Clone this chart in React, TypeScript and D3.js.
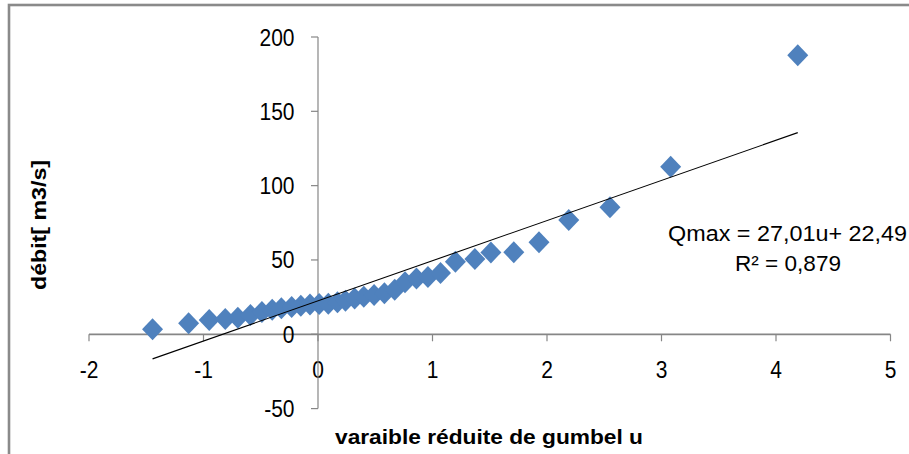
import React from "react";
import * as d3 from "d3";

// Gumbel reduced variate u (x) and maximum discharge Qmax (y)
const uValues = [
  -1.445, -1.13, -0.95, -0.81, -0.7, -0.59, -0.49, -0.4, -0.32, -0.23, -0.15, -0.07,
  0.01, 0.09, 0.17, 0.24, 0.32, 0.4, 0.49, 0.58, 0.67, 0.76, 0.86, 0.96, 1.07, 1.2,
  1.37, 1.51, 1.71, 1.93, 2.19, 2.55, 3.08, 4.19,
];
const qValues = [
  3.4, 7.4, 9.6, 10.3, 11.2, 13.0, 15.0, 16.5, 17.5, 18.3, 19.2, 20.0,
  20.3, 20.5, 21.5, 22.5, 24.0, 25.3, 26.4, 27.6, 30.0, 35.0, 37.6, 38.5, 41.2, 48.8,
  50.6, 55.1, 55.2, 61.9, 76.9, 85.4, 112.7, 187.8,
];
const xTicks = [-2, -1, 0, 1, 2, 3, 4, 5];
const yTicks = [-50, 0, 50, 100, 150, 200];
const slope = 27.01;
const intercept = 22.49;
const equationText = "Qmax = 27,01u+ 22,49";
const r2Text = "R² = 0,879";
const xTitle = "varaible réduite de gumbel u";
const yTitle = "débit[ m3/s]";

const W = 909;
const H = 454;
const FONT = "'Liberation Sans', Arial, sans-serif";
const AXIS = "#868686";
const BLUE = "#4F81BD";

export default function App() {
  const x = d3.scaleLinear().domain([-2, 5]).range([89, 890.5]);
  const y = d3.scaleLinear().domain([-50, 200]).range([408.6, 37]);
  const x0 = x(0);
  const y0 = y(0);

  const points = uValues.map((u, i) => ({ u, q: qValues[i] }));
  const uMin = d3.min(uValues) as number;
  const uMax = d3.max(uValues) as number;
  const trend = d3
    .line<number>()
    .x((u) => x(u))
    .y((u) => y(slope * u + intercept))([uMin, uMax]);

  const diamond = (cx: number, cy: number) =>
    `M${cx},${cy - 11}L${cx + 10.5},${cy}L${cx},${cy + 11}L${cx - 10.5},${cy}Z`;

  return (
    <svg
      width={W}
      height={H}
      style={{ position: "absolute", left: 0, top: 0, background: "#fff" }}
      fontFamily={FONT}
    >
      <rect x={0} y={0} width={W} height={H} fill="#fff" />
      {/* outer frame */}
      <rect x={9} y={5} width={1200} height={1200} fill="none" stroke="#8a8a8a" strokeWidth={2.6} />

      {/* x axis */}
      <line x1={x(-2)} x2={x(5)} y1={y0} y2={y0} stroke={AXIS} strokeWidth={1.8} />
      {xTicks.map((t) => (
        <g key={"xt" + t}>
          <line x1={x(t)} x2={x(t)} y1={y0} y2={y0 + 7} stroke={AXIS} strokeWidth={1.2} />
          <text
            transform={`translate(${x(t)},378) scale(1,1.12)`}
            textAnchor="middle"
            fontSize={21}
            fill="#000"
          >
            {String(t)}
          </text>
        </g>
      ))}

      {/* y axis */}
      <line x1={x0} x2={x0} y1={y(200)} y2={y(-50)} stroke={AXIS} strokeWidth={1.2} />
      {yTicks.map((t) => (
        <g key={"yt" + t}>
          <line x1={x0 - 7} x2={x0} y1={y(t)} y2={y(t)} stroke={AXIS} strokeWidth={1.2} />
          <text
            transform={`translate(294.5,${y(t) + 8.5}) scale(1,1.12)`}
            textAnchor="end"
            fontSize={21}
            fill="#000"
          >
            {String(t)}
          </text>
        </g>
      ))}

      {/* points */}
      {points.map((p, i) => (
        <path key={"p" + i} d={diamond(x(p.u), y(p.q))} fill={BLUE} />
      ))}

      {/* trend line */}
      <path d={trend || ""} fill="none" stroke="#000" strokeWidth={1.1} />

      {/* equation */}
      <text
        transform="translate(668,241) scale(1,1.1)"
        fontSize={19.5}
        textLength={239}
        lengthAdjust="spacingAndGlyphs"
        fill="#000"
      >
        {equationText}
      </text>
      <text
        transform="translate(735,271) scale(1,1.1)"
        fontSize={19.5}
        textLength={106}
        lengthAdjust="spacingAndGlyphs"
        fill="#000"
      >
        {r2Text}
      </text>

      {/* axis titles */}
      <text
        x={335}
        y={444}
        fontSize={19.5}
        fontWeight="bold"
        textLength={308}
        lengthAdjust="spacingAndGlyphs"
        fill="#000"
      >
        {xTitle}
      </text>
      <text
        transform="translate(46,290) rotate(-90)"
        x={0}
        y={0}
        fontSize={20}
        fontWeight="bold"
        textLength={130}
        lengthAdjust="spacingAndGlyphs"
        fill="#000"
      >
        {yTitle}
      </text>
    </svg>
  );
}
